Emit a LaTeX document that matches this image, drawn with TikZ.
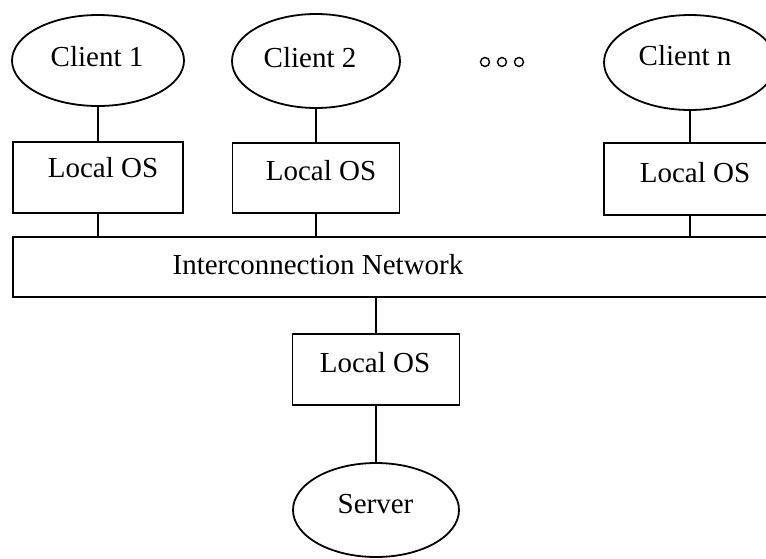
\documentclass[tikz,border=0pt]{standalone}
\usepackage{fontspec}
\setmainfont{Liberation Serif}
\usetikzlibrary{shapes.geometric}
\begin{document}
\begin{tikzpicture}[x=0.5pt,y=-0.5pt,line width=0.9pt,
  osbox/.style={draw,rectangle,inner sep=0pt},
  peer/.style={draw,ellipse,inner sep=0pt},
  lbl/.style={anchor=base,inner sep=0pt,font=\fontsize{14.5}{17}\selectfont},
  dot/.style={draw,circle,inner sep=0pt,minimum size=4.5pt,line width=0.7pt}]
\useasboundingbox (0,0) rectangle (766,558);
\clip (0,0) rectangle (766,558);

% clients
\node[peer,minimum width=86pt,minimum height=45.5pt] (c1) at (98,60.5) {};
\node[peer,minimum width=84pt,minimum height=47pt] (c2) at (316,61) {};
\node[peer,minimum width=86pt,minimum height=47.5pt] (cn) at (690,62.5) {};

% local operating systems
\node[osbox,minimum width=85pt,minimum height=35.5pt] (os1) at (98,177.5) {};
\node[osbox,minimum width=83.5pt,minimum height=35pt] (os2) at (316,178) {};
\node[osbox,minimum width=86pt,minimum height=36pt] (osn) at (690,179) {};
\node[osbox,minimum width=83.5pt,minimum height=35.5pt] (oss) at (376,369.5) {};

% network and server
\node[osbox,minimum width=383.5pt,minimum height=30pt] (net) at (396.5,267) {};
\node[peer,minimum width=83pt,minimum height=47pt] (srv) at (376,510) {};

% ellipsis between clients
\node[dot] (d1) at (485,62) {};
\node[dot] (d2) at (502,62) {};
\node[dot] (d3) at (519,62) {};

% labels
\node[lbl] (t1) at (97,66.7) {Client 1};
\node[lbl] (t2) at (310,67) {Client 2};
\node[lbl] (tn) at (685,65.5) {Client n};
\node[lbl] (l1) at (103,177) {Local OS};
\node[lbl] (l2) at (321,180) {Local OS};
\node[lbl] (ln) at (695,182) {Local OS};
\node[lbl] (ls) at (375,372) {Local OS};
\node[lbl] (tnet) at (318,274) {Interconnection Network};
\node[lbl] (tsrv) at (375.5,513) {Server};

% connectors
\draw (c1) -- (os1);
\draw (c2) -- (os2);
\draw (cn) -- (osn);
\draw (os1) -- (os1 |- net.north);
\draw (os2) -- (os2 |- net.north);
\draw (osn) -- (osn |- net.north);
\draw (oss) -- (oss |- net.south);
\draw (oss) -- (srv);
\end{tikzpicture}
\end{document}
